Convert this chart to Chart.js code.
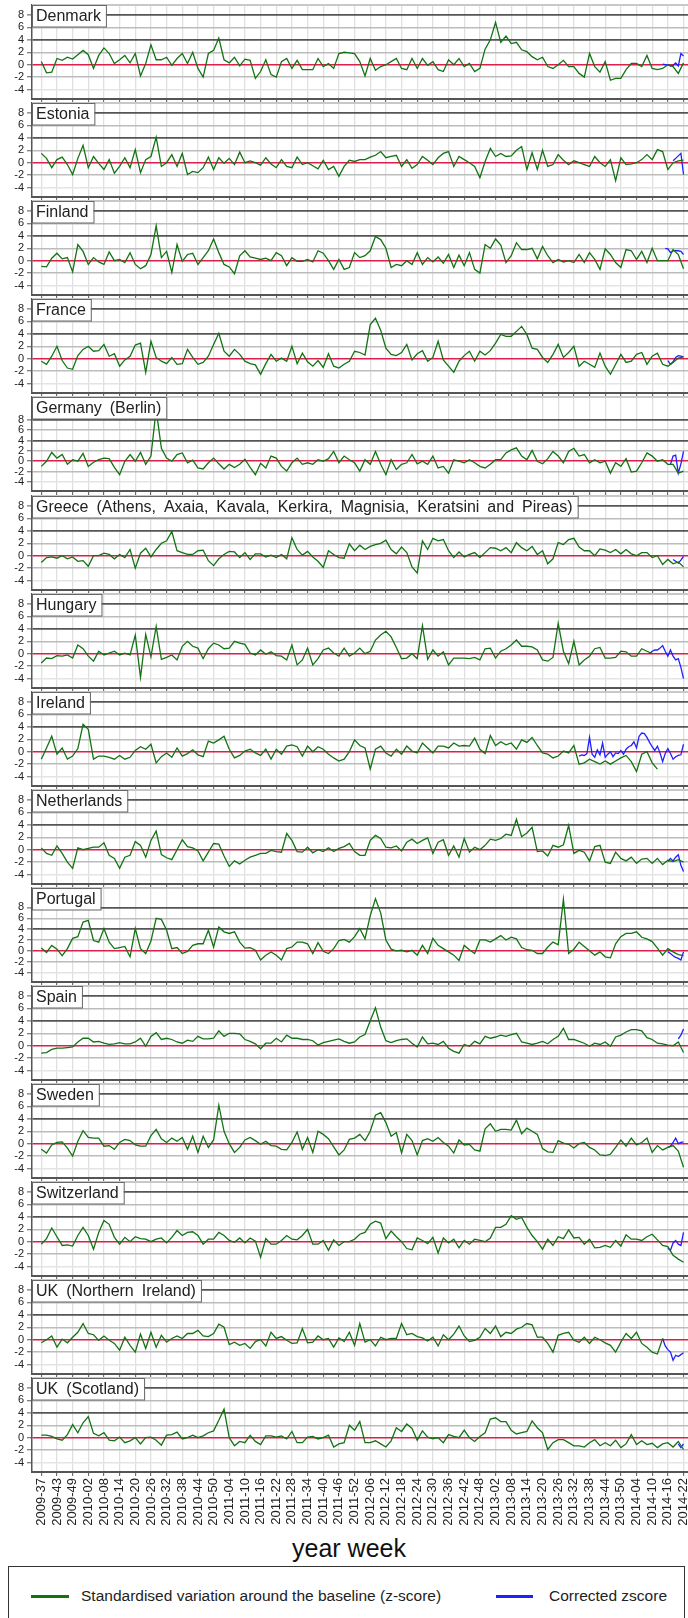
<!DOCTYPE html>
<html>
<head>
<meta charset="utf-8">
<script src="https://cdn.jsdelivr.net/npm/chart.js@4.4.1/dist/chart.umd.min.js"></script>
<style>
  body { margin: 0; background: #fff; }
  #page { position: relative; width: 688px; height: 1618px; overflow: hidden; font-family: 'Liberation Sans', Arial, sans-serif; }
  #page canvas { position: absolute; left: 0; }
  #xtitle { position: absolute; left: 0; width: 698px; top: 1533px; text-align: center; font-size: 25px; line-height: 30px; color: #111; }
  #legendBox { position: absolute; left: 8px; top: 1566px; width: 677px; height: 80px; border: 1px solid #333; box-sizing: border-box; }
  .swatch { position: absolute; height: 0; border-top: 3px solid; top: 1595px; }
  .ltext { position: absolute; top: 1587px; font-size: 15.5px; line-height: 18px; color: #222; white-space: nowrap; }
</style>
</head>
<body>
<div id="page">
  <div id="xtitle">year week</div>
  <div id="legendBox"></div>
  <div class="swatch" style="left:31px;width:38px;border-color:#137313"></div>
  <div class="ltext" style="left:81px">Standardised variation around the baseline (z-score)</div>
  <div class="swatch" style="left:496px;width:37px;border-color:#2020ff"></div>
  <div class="ltext" style="left:549px">Corrected zscore</div>
</div>
<script>
// x axis: one tick every 6 weeks, week index 0 = 2009-37
const tickLabels = ['2009-37','2009-43','2009-49','2010-02','2010-08','2010-14','2010-20','2010-26','2010-32','2010-38',
  '2010-44','2010-50','2011-04','2011-10','2011-16','2011-22','2011-28','2011-34','2011-40','2011-46','2011-52',
  '2012-06','2012-12','2012-18','2012-24','2012-30','2012-36','2012-42','2012-48','2013-02','2013-08','2013-14',
  '2013-20','2013-26','2013-32','2013-38','2013-44','2013-50','2014-04','2014-10','2014-16','2014-22'];
const yTicks = [-4, -2, 0, 2, 4, 6, 8];

const countries = ['Denmark', 'Estonia', 'Finland', 'France', 'Germany (Berlin)',
  'Greece (Athens, Axaia, Kavala, Kerkira, Magnisia, Keratsini and Pireas)', 'Hungary', 'Ireland',
  'Netherlands', 'Portugal', 'Spain', 'Sweden', 'Switzerland', 'UK (Northern Ireland)', 'UK (Scotland)'];

// z-scores, one value every 2 weeks from 2009-37
const zStep = 2;
const denmarkZ = [0.5,-1.3,-1.2,1.0,0.7,1.2,0.9,1.6,2.3,1.6,-0.6,1.5,2.7,1.8,0.2,0.8,1.5,0.3,1.8,-1.8,0.2,
  3.2,0.8,0.8,1.2,-0.1,1.0,1.8,0.2,2.0,-0.6,-2.0,1.8,2.3,4.3,0.8,0.3,1.2,-0.2,0.9,0.7,-2.2,-1.1,0.8,-1.6,
  -2.0,0.5,1.0,-0.6,0.7,-0.8,-0.8,-0.8,1.0,-0.3,0.2,-0.6,1.8,2.0,1.9,1.8,0.5,-1.8,1.0,-0.9,-0.3,0.0,0.5,1.0,
  -0.6,-0.8,1.0,-0.6,1.0,-0.1,0.5,-0.8,-1.1,0.8,0.0,1.0,-0.3,0.2,-1.1,-0.6,2.5,4.0,6.8,3.6,4.6,3.4,3.6,2.4,
  2.1,1.3,0.8,1.2,-0.3,-0.6,0.0,0.7,-0.3,-0.3,-1.4,-2.0,1.8,-0.3,-1.2,0.5,-2.5,-2.2,-2.2,-0.8,0.2,0.2,-0.3,1.5,
  -0.6,-0.8,-0.6,0.0,-0.3,-1.4,0.3];
const estoniaZ = [1.5,0.7,-0.8,0.5,0.9,-0.3,-1.9,0.7,2.8,-0.8,1.0,-0.1,-1.1,0.5,-1.7,-0.6,0.8,-0.8,2.1,-1.6,
  0.5,1.0,4.1,-0.6,0.0,1.3,-0.6,1.5,-1.9,-1.4,-1.6,-0.8,0.9,-1.1,0.8,-0.1,0.7,-0.3,1.7,0.0,
  0.3,0.0,-0.4,0.8,-0.2,-0.8,0.5,-0.6,-0.8,0.9,-0.3,0.0,-0.5,-1.0,0.4,-1.1,-0.6,-2.2,-0.6,0.4,
  0.2,0.5,0.5,0.9,1.2,1.8,0.8,1.0,1.2,-0.6,0.5,-0.9,-0.3,1.0,0.4,-0.3,0.8,1.5,1.8,-0.6,
  1.0,0.5,0.0,-0.6,-2.4,0.2,2.3,1.0,1.5,1.0,1.1,2.0,2.6,-1.1,1.6,-1.1,2.0,-0.6,-0.3,1.3,
  0.4,-0.3,0.3,0.0,-0.3,-0.6,1.0,0.0,-0.6,0.5,-2.9,0.8,-0.3,-0.2,0.0,0.5,1.3,0.5,2.1,1.8,
  -1.1,0.0,0.3,0.4];
const finlandZ = [-0.9,-1.0,0.4,1.2,0.3,0.5,-1.8,2.6,1.5,-0.6,0.5,-0.2,-0.6,1.4,0.0,0.2,-0.3,1.3,-0.6,-1.3,
  -0.8,1.0,5.6,0.5,1.5,-1.9,2.6,-0.1,1.0,1.2,-0.6,0.5,1.6,3.5,1.3,-0.6,-1.0,-2.1,0.8,1.6,
  0.6,0.4,0.2,0.4,0.0,1.3,0.8,-0.8,0.5,-0.1,-0.1,0.2,-0.2,1.6,1.2,0.0,-1.4,0.2,-1.4,-1.1,
  1.3,0.5,0.8,1.6,3.9,3.4,2.0,-1.1,-0.6,-0.8,0.0,-0.6,1.3,-0.6,0.5,-0.2,0.6,-0.4,1.0,-1.1,
  0.9,-0.8,1.3,-1.4,-2.0,2.6,2.0,3.5,2.5,-0.3,0.8,2.9,1.8,1.8,2.0,0.3,2.3,0.8,-0.3,0.2,
  -0.2,0.0,-0.3,1.0,-0.3,1.3,0.2,-1.4,1.9,1.0,-0.3,-1.1,1.8,1.6,0.2,1.5,-0.3,2.0,0.0,0.0,
  0.0,1.8,1.0,-1.3];
const franceZ = [-0.4,-0.9,0.4,2.0,-0.3,-1.5,-1.7,0.5,1.5,2.0,1.2,1.3,2.3,0.4,0.8,-1.2,-0.2,0.4,2.2,2.5,
  -2.2,2.8,0.2,-0.4,-0.8,0.2,-0.9,-0.8,1.5,0.2,-0.9,-0.6,0.4,2.3,4.1,1.2,0.4,1.5,0.7,-0.4,
  -0.8,-1.0,-2.5,-0.8,0.7,-0.4,0.1,-0.4,2.0,-0.8,0.9,-0.5,-1.2,-0.3,-1.4,0.8,-1.2,-1.5,-0.9,-0.4,
  1.2,1.0,0.6,5.5,6.5,4.6,1.7,0.7,0.5,1.0,2.3,-0.2,0.8,1.3,-0.4,0.2,2.8,-0.2,-1.2,-2.2,
  -0.4,0.5,1.2,-0.4,1.2,0.6,1.3,2.5,3.9,3.6,3.6,4.4,5.2,3.9,1.7,1.5,0.2,-0.6,0.7,2.3,
  0.2,1.0,2.0,-1.2,-0.4,-0.9,-1.4,0.9,-1.2,-2.5,-0.9,0.7,-0.6,-0.4,0.7,1.0,-0.9,0.4,0.9,-0.9,
  -1.2,-0.6,0.1,0.3];
const germanyZ = [-1.0,0.0,1.7,0.6,1.3,-0.6,0.3,0.0,1.5,-1.0,-0.2,0.3,0.6,0.5,-1.2,-2.6,0.0,1.3,0.0,1.7,
  -0.6,1.0,10.0,2.5,0.6,0.0,1.3,1.6,-0.3,0.2,-1.3,-1.5,-0.3,0.6,-0.5,-1.5,-0.6,-1.2,-0.6,0.4,
  -1.2,-2.6,-0.4,-1.3,1.0,0.6,-1.0,-1.9,-0.3,0.6,-0.6,-0.3,-0.6,0.3,0.0,0.5,1.9,-0.3,1.0,0.3,
  -0.3,-1.9,0.3,-0.6,1.9,-0.6,-2.6,0.3,-1.6,-0.6,-0.3,1.3,-0.5,0.0,-0.6,1.0,-1.3,-1.0,-2.3,0.3,
  0.0,-0.3,0.3,-0.3,-1.0,-1.3,-0.6,0.3,0.3,1.6,2.2,2.6,1.0,0.3,2.1,0.0,-0.5,0.5,1.9,1.0,
  -0.3,1.9,2.5,1.0,1.3,-0.3,0.3,-0.3,0.0,-2.3,-0.3,-1.0,0.5,-2.1,-1.9,-0.3,1.6,1.0,0.0,0.3,
  -0.6,-0.6,-2.3,-1.9];
const greeceZ = [-1.1,-0.3,-0.2,-0.4,0.0,-0.5,-0.2,-0.9,-0.8,-1.7,0.0,0.0,0.4,0.2,-0.5,0.2,-0.3,1.0,-2.0,0.4,
  1.2,-0.2,1.0,2.0,2.4,3.9,0.8,0.5,0.2,0.2,0.8,0.9,-0.8,-1.6,-0.5,0.2,0.7,0.6,-0.3,0.5,
  -0.6,0.3,0.3,-0.2,0.1,-0.3,0.2,-0.5,2.9,1.0,0.1,0.7,-0.2,-0.9,-1.9,0.8,0.2,-0.3,-0.4,1.9,
  0.8,1.7,1.0,1.5,1.8,2.0,2.5,1.0,0.3,1.4,0.5,-1.8,-2.8,2.4,1.0,2.8,2.4,2.6,0.8,-0.3,
  0.6,-0.2,0.2,0.5,-0.3,0.5,1.3,1.2,0.8,1.3,0.5,2.1,1.3,0.8,1.5,0.2,0.8,-1.3,-0.5,2.1,
  1.8,2.6,2.8,1.4,0.8,0.8,0.0,1.1,0.9,0.5,1.0,0.3,1.0,0.3,0.0,0.5,0.5,-0.3,0.0,-1.4,
  -0.6,-1.3,-1.0,-1.8];
const hungaryZ = [-1.5,-0.7,-0.8,-0.3,-0.4,-0.2,-0.7,1.4,0.8,-0.4,-1.2,0.4,-0.2,0.1,0.4,-0.2,0.1,-0.2,3.0,-3.8,
  3.1,-0.5,4.4,-0.9,-0.6,-0.2,-1.0,1.2,2.0,1.2,0.9,-0.8,0.8,1.7,1.4,0.8,0.9,2.0,1.7,1.5,
  0.1,-0.2,0.6,-0.1,0.3,-0.3,-0.4,-1.0,1.4,-1.8,-1.0,0.9,-1.8,-0.8,0.6,0.9,0.1,-0.4,0.9,-0.4,
  0.1,0.9,0.0,0.4,2.2,3.0,3.6,2.7,1.0,-0.8,-0.7,0.0,-0.8,4.5,-0.9,0.6,-0.4,0.3,-1.8,-0.7,
  -0.7,-0.7,-0.8,-0.6,-1.0,0.8,0.9,-0.7,0.4,0.8,1.4,2.2,1.2,1.2,1.1,0.6,-1.0,-1.2,-0.6,4.9,
  0.4,-1.6,2.0,-1.8,-1.0,-0.4,0.8,1.0,-0.7,-0.7,-0.6,0.4,0.3,-0.4,-0.4,0.8,0.4,0.0];
const irelandZ = [-1.2,0.6,2.5,-0.4,0.6,-1.2,-0.7,0.5,4.4,3.6,-1.2,-0.7,-0.7,-0.9,-1.2,-0.6,-1.2,-0.9,0.2,0.8,
  0.4,1.2,-1.8,-0.8,-0.2,-0.9,0.6,-0.7,-0.3,0.3,-0.5,-0.8,1.7,1.4,1.9,2.5,0.4,-1.0,-0.6,0.1,
  0.4,-0.2,-0.6,0.4,-1.2,0.4,-0.4,0.9,1.1,0.8,-0.7,0.9,0.0,0.8,0.4,-0.4,-1.0,-1.5,-1.2,0.0,
  1.9,1.0,0.6,-2.8,0.4,0.9,-0.2,-0.7,0.4,-0.4,0.9,0.1,-0.2,1.4,0.6,-0.2,0.9,0.9,0.6,1.4,
  0.9,1.0,0.9,2.2,0.4,-0.3,2.6,1.0,1.6,1.1,1.4,0.4,1.9,1.5,2.3,1.0,-0.2,-0.4,-1.0,-0.7,
  0.1,-0.2,1.0,-2.0,-1.8,-1.2,-1.6,-2.0,-1.5,-2.0,-1.5,-1.0,-0.6,-1.6,-3.2,-0.4,0.0,-1.8,-2.8];
const netherlandsZ = [0.3,-0.6,-0.9,0.6,-0.6,-2.0,-3.0,0.3,0.0,0.2,0.4,0.4,1.1,-0.9,-1.4,-3.0,-1.2,-0.9,1.3,0.7,
  -1.2,1.5,3.0,-0.8,-1.3,-1.6,0.0,1.6,0.5,0.3,-0.2,-1.8,-0.4,1.0,0.9,-1.0,-2.7,-1.8,-2.3,-1.7,
  -1.2,-0.9,-0.6,-0.6,-0.1,-0.3,-0.4,2.6,1.5,-0.3,-0.4,0.4,-0.5,0.0,-0.3,0.3,-0.3,0.2,0.5,1.0,
  -0.3,-0.9,-0.9,1.5,2.3,1.8,0.4,0.3,0.6,-0.2,1.2,1.7,1.0,1.5,1.9,-0.6,1.2,1.6,-0.9,0.6,
  -1.2,1.8,-0.4,0.4,0.0,0.7,1.7,1.5,1.8,2.5,2.3,4.9,2.1,2.7,3.6,-0.3,-0.2,-1.0,0.7,0.4,
  0.8,3.9,-0.6,-0.1,-0.4,-1.8,0.5,0.7,-2.0,-2.2,-0.4,-1.4,-1.8,-1.2,-2.2,-1.5,-1.4,-2.2,-1.4,-2.4,
  -1.7,-1.9,-1.6,-2.0];
const portugalZ = [0.5,-0.3,1.0,0.3,-0.9,0.4,2.3,2.6,5.3,5.6,1.9,1.6,4.1,1.6,0.4,0.6,0.8,-1.1,4.1,0.4,
  -0.5,1.8,6.0,5.8,3.8,0.4,0.6,-0.5,-0.1,1.0,1.3,1.3,3.8,0.7,4.4,3.5,3.2,3.5,1.6,0.5,
  0.6,0.1,-1.7,-0.8,-0.2,-0.8,-1.7,0.4,0.7,1.6,1.6,1.3,-0.5,1.5,-0.1,-0.5,0.4,1.9,2.1,1.6,
  2.6,4.1,2.2,6.5,9.6,7.0,2.0,0.3,0.0,0.1,-0.2,0.1,-0.8,1.0,-0.5,2.3,1.0,0.4,-0.2,-0.8,
  -1.8,1.0,0.2,-0.5,2.0,2.0,1.6,2.2,2.8,2.0,2.5,2.2,0.6,0.2,0.1,-0.5,-0.5,0.7,1.6,1.1,
  9.5,-0.5,0.3,1.6,0.8,0.0,-0.8,-0.2,-1.1,-1.3,1.3,2.6,3.2,3.2,3.5,2.5,2.2,1.7,0.5,-0.8,
  0.4,-0.2,-0.7,-0.9];
const spainZ = [-1.2,-1.1,-0.6,-0.4,-0.4,-0.3,-0.2,0.6,1.2,1.2,0.6,0.7,0.4,0.2,0.3,0.5,0.3,0.3,0.6,1.2,
  -0.1,1.5,2.1,1.0,1.2,1.0,0.6,0.4,0.9,0.7,1.5,1.1,1.1,1.2,2.4,1.5,2.0,2.0,1.9,1.0,
  0.7,0.3,-0.5,0.4,0.4,1.2,0.6,1.7,1.2,1.2,1.0,1.0,0.8,0.1,0.5,0.7,0.9,1.1,0.7,0.4,
  0.6,1.4,1.8,4.0,6.1,3.0,0.8,0.5,0.8,1.0,1.1,0.4,-0.2,1.4,0.3,0.4,0.2,0.7,-0.4,-0.9,
  -1.2,0.2,-0.1,0.7,0.3,1.5,1.2,1.4,1.7,1.5,1.8,2.0,0.6,0.4,0.2,0.4,0.7,0.3,1.0,1.5,
  2.8,1.0,1.0,0.7,0.4,-0.1,0.4,0.2,0.6,-0.1,1.4,1.7,2.2,2.6,2.6,2.4,1.3,1.0,0.4,0.3,
  0.1,0.0,0.6,-1.1];
const swedenZ = [-0.9,-1.5,-0.2,0.2,0.3,-0.7,-2.0,0.4,2.1,1.0,0.9,0.9,-0.4,-0.3,-0.9,0.2,0.7,0.5,-0.2,-0.4,
  -0.4,1.3,2.3,0.8,0.2,0.9,0.4,1.0,-0.9,1.2,-1.4,1.2,-0.6,0.6,6.2,2.0,0.0,-1.4,-0.6,0.6,
  1.0,0.5,-0.1,0.4,-0.3,-0.4,-0.9,-1.0,0.2,1.9,-0.9,1.0,-1.4,2.0,1.5,0.8,-0.5,-1.8,-1.0,0.7,
  0.9,1.5,0.5,2.0,4.6,5.0,3.4,1.2,1.8,-1.5,1.5,0.5,-1.8,0.5,0.8,0.4,1.0,0.2,-0.4,-1.5,
  0.6,-0.2,-0.1,-1.0,-1.2,2.4,3.2,2.0,2.3,2.3,2.2,3.8,1.6,2.5,2.0,1.5,-0.8,-1.3,-1.4,0.5,
  0.1,-0.1,-0.7,0.0,0.2,-0.6,-1.0,-1.8,-1.9,-1.7,-0.6,0.6,-0.4,0.9,-0.2,0.2,0.9,-1.4,-0.3,-1.0,
  -0.6,-0.3,-1.2,-3.8];
const switzerlandZ = [-0.4,0.5,2.2,0.8,-0.6,-0.5,-0.7,1.0,2.3,1.0,-1.2,1.5,3.4,2.8,0.7,-0.4,0.7,0.0,0.8,0.5,
  0.4,0.0,0.4,0.6,-0.2,0.7,1.8,1.0,1.5,1.6,1.0,-0.4,0.4,0.4,1.5,1.0,0.2,-0.1,0.6,-0.2,
  0.6,0.1,-2.5,0.5,-0.4,-0.4,0.2,1.0,0.4,0.3,1.0,2.0,-0.4,-0.4,0.2,-1.4,0.3,-0.6,0.0,0.0,
  0.4,1.2,1.5,2.8,3.3,3.0,0.5,1.7,0.8,0.0,-1.1,-1.3,0.6,0.2,-0.3,0.7,-1.8,0.6,-0.2,0.4,
  -1.0,0.2,-0.4,0.4,0.2,0.0,0.6,2.3,2.3,2.8,4.2,3.6,3.9,2.3,1.0,0.0,-1.2,0.4,-0.6,0.8,
  0.5,1.9,0.6,0.7,-0.4,0.4,-1.0,-0.9,-0.6,-0.9,0.2,-0.7,1.1,0.4,0.4,0.2,0.8,1.2,0.3,-0.6,
  -0.8,-2.2,-2.8,-3.3];
const ukNorthernIrelandZ = [-0.5,0.0,0.6,-1.2,0.1,-0.5,0.4,1.2,2.6,1.0,0.8,-0.1,0.6,-0.1,-0.6,-1.7,0.4,-0.9,-2.0,0.9,
  -1.4,1.2,-1.2,0.7,-0.4,0.2,0.6,0.2,1.0,1.0,1.5,0.6,0.5,1.0,2.5,2.0,-0.8,-0.4,-0.9,-0.6,
  -1.4,-0.3,0.0,-1.0,1.2,0.2,0.5,-0.1,-0.6,-0.5,1.8,-0.5,-0.4,0.6,0.0,0.2,-1.2,0.3,-0.3,1.2,
  -0.9,2.6,-0.4,0.0,-1.0,0.4,0.0,0.2,0.2,2.6,0.8,1.0,0.5,0.3,-0.2,0.4,-1.0,0.8,0.0,0.9,
  2.2,0.6,-0.3,-0.1,0.4,1.8,1.0,2.2,0.5,1.2,1.0,1.7,2.0,2.6,2.4,0.4,0.4,-0.6,-2.0,0.7,
  1.0,1.2,-0.1,-0.4,0.4,-0.6,0.4,0.0,-0.5,-0.9,-2.0,-0.4,1.0,0.2,1.2,-0.6,-1.2,-2.0,-2.3,0.2];
const ukScotlandZ = [0.4,0.4,0.2,-0.2,-0.4,0.5,2.1,0.8,2.4,3.4,0.7,0.3,0.8,-0.4,-0.5,0.1,-0.8,-0.5,0.0,-1.0,
  0.0,0.1,-0.4,-1.2,0.4,0.5,0.9,-0.2,0.0,0.4,0.0,0.3,0.8,1.1,2.8,4.6,0.0,-1.3,-0.6,-0.8,
  0.4,-0.6,-1.1,0.3,0.3,0.1,0.3,-0.2,1.0,-0.8,-0.8,0.1,0.2,-0.2,0.0,0.4,-1.5,-1.0,-0.8,2.0,
  1.2,2.6,-0.8,-0.8,-0.5,-1.0,-1.5,-0.5,1.6,1.0,2.2,1.5,-0.4,1.1,0.1,-0.2,0.0,-0.8,0.5,0.2,
  0.0,1.2,0.0,-0.6,0.2,0.8,3.0,3.2,2.6,2.6,1.2,0.6,0.8,1.0,2.7,1.6,0.8,-1.9,-0.8,-0.3,
  -0.3,-0.8,-1.3,-1.3,-1.5,-0.8,-0.3,-1.3,-0.8,-1.3,-0.4,-1.6,-1.0,0.5,-1.1,-0.5,-1.1,-0.9,-1.6,-1.0,
  -0.8,-1.5,-0.6,-1.9];

// corrected z-scores, weekly, starting at the week index in correctedStart
const correctedStart = [238, 242, 239, 240, 241, 242, 233, 206, 240, 240, 244, 240, 240, 238, 244];
const denmarkC = [0.1,0.0,0.0,-0.2,-0.1,0.3,-0.2,1.8,1.4];
const estoniaC = [0.3,0.7,1.1,1.5,-1.9];
const finlandC = [2.0,1.9,1.3,1.6,1.6,1.6,1.5,1.0];
const franceC = [-0.3,-0.9,-0.5,0.2,0.5,0.4,0.3];
const germanyC = [-0.6,1.0,1.2,-2.3,-0.5,1.9];
const greeceC = [-0.6,-0.9,-1.2,-0.7,-0.1];
const hungaryC = [0.0,0.4,0.6,0.6,0.9,1.3,0.4,-0.4,0.6,-0.4,-1.0,-0.8,-2.2,-4.0];
const irelandC = [-0.7,-0.5,-0.6,-0.3,2.3,-0.4,-0.9,0.3,-0.5,1.4,-0.9,-0.4,0.0,-0.8,-0.2,-0.3,0.2,-0.4,0.4,0.8,
  1.0,1.6,0.6,2.5,3.0,2.9,2.3,1.5,0.8,0.2,0.9,-0.2,-1.6,-0.3,0.5,-0.3,-1.2,-0.8,-0.6,-0.5,1.2];
const netherlandsC = [-1.9,-1.4,-1.8,-1.2,-0.8,-2.5,-3.5];
const portugalC = [-0.2,-0.5,-0.9,-1.2,-1.4,-1.7,-0.2];
const spainC = [1.1,1.7,2.7];
const swedenC = [-0.6,-0.4,0.2,0.9,0.0,0.2,0.3];
const switzerlandC = [-1.0,-1.4,-0.2,0.2,-0.4,-0.6,1.5];
const ukNorthernIrelandC = [0.2,-1.0,-1.6,-2.0,-3.3,-2.5,-2.7,-2.4,-2.1];
const ukScotlandC = [-1.0,-1.6,-1.0];

const zSeries = [denmarkZ, estoniaZ, finlandZ, franceZ, germanyZ, greeceZ, hungaryZ, irelandZ,
  netherlandsZ, portugalZ, spainZ, swedenZ, switzerlandZ, ukNorthernIrelandZ, ukScotlandZ];
const cSeries = [denmarkC, estoniaC, finlandC, franceC, germanyC, greeceC, hungaryC, irelandC,
  netherlandsC, portugalC, spainC, swedenC, switzerlandC, ukNorthernIrelandC, ukScotlandC];

const FONT = "'Liberation Sans', Arial, sans-serif";
const GREEN = '#137313';
const BLUE = '#2020ff';
const panelStep = 98.1;

function yLimits(i) {
  if (countries[i] === 'Germany (Berlin)') return [-5.76, 12.43];
  if (countries[i] === 'Portugal') return [-5.75, 11.58];
  return [-5.52, 9.61];
}

function hLine(v) {
  if (v === 0) return ['#dc1f4b', 1.5];
  if (v === 8 || v === 4) return ['#555555', 1.8];
  if (v === -4) return ['#e4e4e4', 1.5];
  return ['#bcbcbc', 1.5];
}

const panelDecor = {
  id: 'panelDecor',
  beforeDatasetsDraw(chart) {
    const { ctx, chartArea: a } = chart;
    ctx.save();
    ctx.strokeStyle = '#c8c8c8';
    ctx.lineWidth = 2;
    ctx.beginPath();
    ctx.moveTo(a.left, a.top);
    ctx.lineTo(a.right, a.top);
    ctx.stroke();
    ctx.restore();
  },
  afterDatasetsDraw(chart, args, opts) {
    const { ctx, chartArea: a } = chart;
    ctx.save();
    ctx.font = '16px ' + FONT;
    if ('wordSpacing' in ctx) ctx.wordSpacing = '3.5px';
    const w = ctx.measureText(opts.title).width + 9;
    ctx.fillStyle = '#fff';
    ctx.fillRect(a.left, a.top, w, 22);
    ctx.strokeStyle = '#666';
    ctx.lineWidth = 1;
    ctx.strokeRect(a.left + 0.5, a.top + 0.5, w, 21.5);
    ctx.fillStyle = '#222';
    ctx.textBaseline = 'alphabetic';
    ctx.fillText(opts.title, a.left + 4, a.top + 16);
    ctx.restore();
  }
};

const page = document.getElementById('page');

countries.forEach((name, i) => {
  const isLast = i === countries.length - 1;
  const canvas = document.createElement('canvas');
  canvas.width = 688;
  canvas.height = isLast ? 175 : 103;
  canvas.style.top = Math.round(panelStep * i) + 'px';
  page.appendChild(canvas);
  const [yMin, yMax] = yLimits(i);

  new Chart(canvas, {
    type: 'line',
    data: {
      datasets: [
        {
          label: 'Standardised variation around the baseline (z-score)',
          data: zSeries[i].map((v, j) => ({ x: j * zStep, y: v })),
          borderColor: GREEN,
          borderWidth: 1.3,
          pointRadius: 0,
          tension: 0
        },
        {
          label: 'Corrected zscore',
          data: cSeries[i].map((v, k) => ({ x: correctedStart[i] + k, y: v })),
          borderColor: BLUE,
          borderWidth: 1.3,
          pointRadius: 0,
          tension: 0
        }
      ]
    },
    options: {
      responsive: false,
      animation: false,
      events: [],
      layout: { padding: { top: 5, left: 0, right: 0, bottom: 0 } },
      plugins: {
        legend: { display: false },
        tooltip: { enabled: false },
        panelDecor: { title: name }
      },
      scales: {
        x: {
          type: 'linear',
          min: -3.56,
          max: 247.72,
          afterBuildTicks: s => { s.ticks = tickLabels.map((_, k) => ({ value: k * 6 })); },
          ticks: {
            display: isLast,
            autoSkip: false,
            minRotation: 90,
            maxRotation: 90,
            padding: 2,
            color: '#222',
            font: { family: FONT, size: 13 },
            callback: (v, idx) => tickLabels[idx]
          },
          grid: { color: '#e0e0e0', lineWidth: 1.3, tickColor: '#555', tickLength: 4, tickWidth: 1 },
          border: { color: '#555', width: 2 },
          afterFit: s => { s.height = isLast ? 76 : 4; s.paddingLeft = 0; s.paddingRight = 0; }
        },
        y: {
          min: yMin,
          max: yMax,
          afterBuildTicks: s => { s.ticks = yTicks.map(v => ({ value: v })); },
          ticks: { autoSkip: false, color: '#222', font: { family: FONT, size: 11 }, padding: 3 },
          grid: {
            color: c => hLine(c.tick.value)[0],
            lineWidth: c => hLine(c.tick.value)[1],
            tickColor: '#555',
            tickLength: 5,
            tickWidth: 1
          },
          border: { color: '#555', width: 1.5 },
          afterFit: s => { s.width = 32; s.paddingTop = 0; s.paddingBottom = 0; }
        }
      }
    },
    plugins: [panelDecor]
  });
});
</script>
</body>
</html>
